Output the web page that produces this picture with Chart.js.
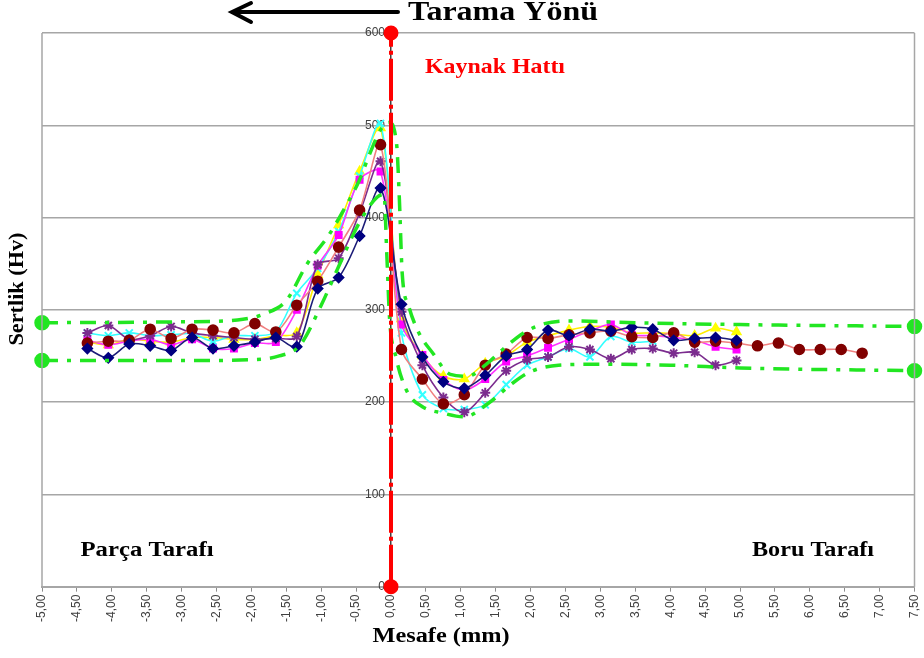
<!DOCTYPE html>
<html>
<head>
<meta charset="utf-8">
<script src="https://cdn.jsdelivr.net/npm/chart.js@4.4.1/dist/chart.umd.min.js"></script>
<style>
  body { margin: 0; background: #fff; }
  #grafik { display: block; }
</style>
</head>
<body>
<canvas id="grafik" width="924" height="658"></canvas>
<script>
// Mesafe (mm) - olcum noktalari
const mesafe = [-4.35, -4.05, -3.75, -3.45, -3.15, -2.85, -2.55, -2.25, -1.95, -1.65, -1.35, -1.05,
  -0.75, -0.45, -0.15, 0.15, 0.45, 0.75, 1.05, 1.35, 1.65, 1.95, 2.25, 2.55, 2.85, 3.15, 3.45, 3.75,
  4.05, 4.35, 4.65, 4.95];
const mesafeUzun = mesafe.concat([5.25, 5.55, 5.85, 6.15, 6.45, 6.75]);

// Sertlik degerleri (Hv)
const lacivert = [258, 248, 263, 261, 256, 270, 258, 261, 265, 270, 260, 323, 335, 380, 432, 306, 249, 222, 215, 229, 250, 257, 278, 272, 279, 277, 281, 279, 267, 269, 270, 267];
const bordo = [264, 266, 267, 279, 269, 279, 278, 275, 285, 276, 305, 331, 368, 408, 479, 257, 225, 198, 208, 240, 252, 270, 269, 273, 275, 277, 271, 270, 275, 265, 266, 264, 261, 264, 257, 257, 257, 253];
const pembe = [267, 262, 266, 268, 262, 268, 258, 258, 264, 265, 300, 348, 381, 441, 450, 284, 251, 224, 213, 225, 244, 250, 259, 268, 277, 284, 273, 272, 270, 267, 260, 257];
const sari = [265, 262, 268, 266, 265, 270, 270, 268, 268, 272, 275, 338, 392, 450, 497, 290, 250, 228, 225, 242, 250, 265, 272, 278, 282, 281, 275, 275, 274, 272, 280, 276];
const turkuaz = [275, 272, 275, 272, 273, 274, 266, 272, 272, 276, 318, 345, 385, 445, 502, 275, 208, 193, 192, 197, 219, 240, 249, 258, 249, 271, 265, 266];
const mor = [275, 283, 268, 272, 282, 275, 272, 270, 268, 269, 271, 349, 356, 405, 461, 298, 240, 205, 189, 210, 234, 246, 249, 260, 257, 247, 257, 258, 253, 254, 240, 245];

// Zarf egrileri (yesil kesikli)
const ustZarfX = [-5, -3, -2.2, -1.8, -1.5, -1.2, -0.9, -0.65, -0.45, -0.3, -0.15, -0.03, 0.08, 0.12, 0.16, 0.25, 0.4, 0.6, 0.85, 1.1, 1.35, 1.6, 1.9, 2.2, 2.6, 3.5, 5, 7.5];
const ustZarfY = [286, 287, 289, 296, 310, 350, 380, 412, 441, 470, 495, 503, 480, 420, 340, 305, 275, 253, 230, 228, 240, 257, 275, 285, 288, 286, 284, 282];
const altZarfX = [-5, -3, -2, -1.6, -1.3, -1.0, -0.75, -0.45, -0.2, -0.1, -0.06, -0.02, 0.07, 0.22, 0.45, 0.75, 1.05, 1.4, 1.75, 2.0, 2.4, 3.0, 4.0, 5, 7.5];
const altZarfY = [245, 245, 246, 250, 262, 305, 347, 395, 422, 425, 360, 290, 249, 213, 195, 188, 184, 199, 221, 233, 240, 241, 240, 237, 234];

// Kaynak hatti
const kaynakX = [0, 0];
const kaynakY = [0, 600];

const yTicks = [0, 100, 200, 300, 400, 500, 600];

function pts(xs, ys) {
  return ys.map((y, i) => ({ x: xs[i], y: y }));
}

function seri(label, xs, ys, renk, cizgi, stil, r, extra) {
  return Object.assign({
    label: label,
    data: pts(xs, ys),
    borderColor: cizgi,
    backgroundColor: renk,
    pointBackgroundColor: renk,
    pointBorderColor: renk,
    pointStyle: stil,
    pointRadius: r,
    borderWidth: 1.6,
    tension: 0.3
  }, extra || {});
}

const uc = (ctx) => (ctx.dataIndex === 0 || ctx.dataIndex === ctx.dataset.data.length - 1) ? 6 : 0;

const zarf = (label, xs, ys) => ({
  label: label,
  data: pts(xs, ys),
  borderColor: '#22e622',
  backgroundColor: '#22e622',
  pointBackgroundColor: '#22e622',
  pointBorderColor: '#22e622',
  borderWidth: 3.5,
  borderDash: [16, 9, 4, 9],
  pointRadius: uc,
  cubicInterpolationMode: 'monotone',
  clip: false,
  order: 1
});

function yaziSigdir(ctx, text, cx, cy, w, size, color, rot) {
  ctx.save();
  ctx.font = 'bold ' + size + 'px "Liberation Serif", "Times New Roman", serif';
  const m = ctx.measureText(text).width;
  ctx.translate(cx, cy);
  if (rot) ctx.rotate(rot);
  ctx.scale(w / m, 1);
  ctx.fillStyle = color;
  ctx.textAlign = 'center';
  ctx.textBaseline = 'middle';
  ctx.fillText(text, 0, 0);
  ctx.restore();
}

const yazilar = {
  id: 'yazilar',
  afterDraw(chart) {
    const c = chart.ctx;
    const a = chart.chartArea;
    // cerceve
    c.save();
    c.strokeStyle = '#a6a6a6';
    c.lineWidth = 1.5;
    c.beginPath();
    c.moveTo(a.left, a.bottom);
    c.lineTo(a.left, a.top);
    c.moveTo(a.right, a.top);
    c.lineTo(a.right, a.bottom);
    c.stroke();
    // tarama yonu oku
    c.strokeStyle = '#000';
    c.lineWidth = 4;
    c.lineCap = 'round';
    c.beginPath();
    c.moveTo(398, 12);
    c.lineTo(233, 12);
    c.moveTo(251, 3);
    c.lineTo(232, 12);
    c.lineTo(251, 22);
    c.stroke();
    c.restore();

    yaziSigdir(c, 'Tarama Yönü', 503, 13, 190, 28, '#000');
    yaziSigdir(c, 'Kaynak Hattı', 495, 67, 140, 22, '#ff0000');
    yaziSigdir(c, 'Parça Tarafı', 147, 551, 133, 20, '#000');
    yaziSigdir(c, 'Boru Tarafı', 813, 551, 122, 20, '#000');
    yaziSigdir(c, 'Mesafe (mm)', 441, 637, 137, 20, '#000');
    yaziSigdir(c, 'Sertlik (Hv)', 18, 289, 113, 20, '#000', -Math.PI / 2);
  }
};

const fnt = { family: '"Liberation Sans", Arial, sans-serif', size: 12 };

new Chart(document.getElementById('grafik'), {
  type: 'line',
  data: {
    datasets: [
      {
        label: 'Kaynak Hattı',
        data: pts(kaynakX, kaynakY),
        borderColor: '#ff0000',
        backgroundColor: '#ff0000',
        pointBackgroundColor: '#ff0000',
        pointBorderColor: '#ff0000',
        pointRadius: 5.5,
        borderWidth: 4,
        borderDash: [42, 4, 4, 4],
        clip: false,
        order: 0
      },
      zarf('Üst sınır', ustZarfX, ustZarfY),
      zarf('Alt sınır', altZarfX, altZarfY),
      seri('1', mesafe, lacivert, '#000080', '#1c1c78', 'rectRot', 5, { order: 2 }),
      seri('2', mesafeUzun, bordo, '#800000', '#f08080', 'circle', 5, { order: 3 }),
      seri('3', mesafe, mor, '#7b2c8e', '#7b2c8e', 'star', 5, { order: 4, pointBorderWidth: 2 }),
      seri('4', mesafe, pembe, '#ff00ff', '#ff33ff', 'rect', 4.5, { order: 5 }),
      seri('5', mesafe.slice(0, turkuaz.length), turkuaz, '#33ffff', '#33ffff', 'crossRot', 5, { order: 6, pointBorderWidth: 2 }),
      seri('6', mesafe, sari, '#ffff00', '#ffee00', 'triangle', 5, { order: 7 })
    ]
  },
  options: {
    responsive: false,
    animation: false,
    layout: { padding: { left: 42, right: 7, top: 33, bottom: 33 } },
    plugins: { legend: { display: false }, tooltip: { enabled: false } },
    scales: {
      x: {
        type: 'linear',
        min: -5,
        max: 7.5,
        afterFit: (s) => { s.paddingLeft = 0; s.paddingRight = 0; },
        ticks: {
          stepSize: 0.5,
          autoSkip: false,
          minRotation: 90,
          maxRotation: 90,
          color: '#404040',
          font: fnt,
          callback: (v) => (Math.abs(v) < 1e-9 ? 0 : v).toFixed(2).replace('.', ',')
        },
        grid: { drawOnChartArea: false, tickLength: 5, color: '#8c8c8c' },
        border: { color: '#a6a6a6', width: 2 }
      },
      y: {
        min: 0,
        max: 600,
        position: { x: 0 },
        afterBuildTicks: (s) => { s.ticks = yTicks.map(v => ({ value: v })); },
        ticks: {
          color: '#404040',
          font: { family: fnt.family, size: 12 },
          callback: (v) => v + '\u2002'
        },
        grid: { color: '#a6a6a6', lineWidth: 1.5, drawTicks: false },
        border: { color: '#404040', width: 1.5 }
      }
    }
  },
  plugins: [yazilar]
});
</script>
</body>
</html>
